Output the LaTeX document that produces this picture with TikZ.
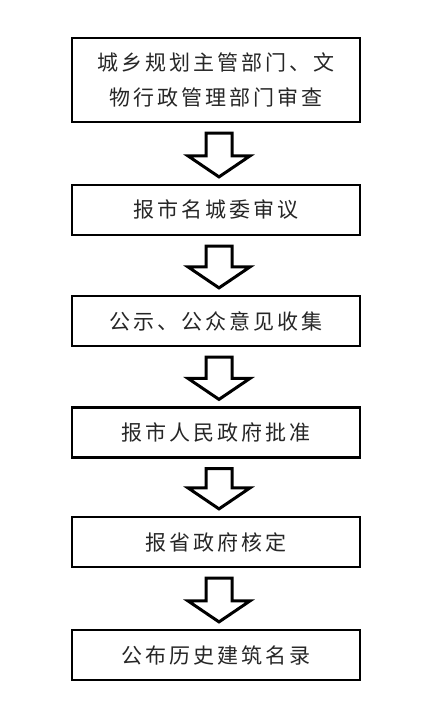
\documentclass[tikz,border=0pt]{standalone}
\usepackage{fontspec}
\usetikzlibrary{calc}
\newfontfamily\cjk[LetterSpace=14]{Noto Sans CJK SC}
\tikzset{
  stepbox/.style={draw, line width=2.2pt, minimum width=288pt, minimum height=50pt,
    align=center, text=black!85, font=\fontsize{21pt}{35pt}\selectfont\cjk},
  hollowarrow/.style={draw, line width=3pt, fill=white, line join=miter}
}
% hollow block arrow from one box down to the next
\newcommand{\downstep}[2]{%
\draw[hollowarrow] let \p1=(#1.south), \p2=(#2.north) in
  (\x1-10pt,\y1-10pt) -- (\x1-10pt,\y2+28pt) -- (\x1-28pt,\y2+28pt) --
  (\x1+3pt,\y2+7pt) -- (\x1+34pt,\y2+28pt) -- (\x1+16pt,\y2+28pt) --
  (\x1+16pt,\y1-10pt) -- cycle;}

\begin{document}
\begin{tikzpicture}[x=1pt,y=-1pt]
\useasboundingbox (0,0) rectangle (433,723);
% steps
\node[stepbox, minimum height=84pt] (review) at (216,80) {城乡规划主管部门、文\\物行政管理部门审查};
\node[stepbox] (committee) at (216,210) {报市名城委审议};
\node[stepbox] (publicity) at (216,321) {公示、公众意见收集};
\node[stepbox] (approval) at (216,432.5) {报市人民政府批准};
\node[stepbox] (province) at (216,542) {报省政府核定};
\node[stepbox] (publish) at (216,655) {公布历史建筑名录};
% arrows
\downstep{review}{committee}
\downstep{committee}{publicity}
\downstep{publicity}{approval}
\downstep{approval}{province}
\downstep{province}{publish}
\end{tikzpicture}
\end{document}
